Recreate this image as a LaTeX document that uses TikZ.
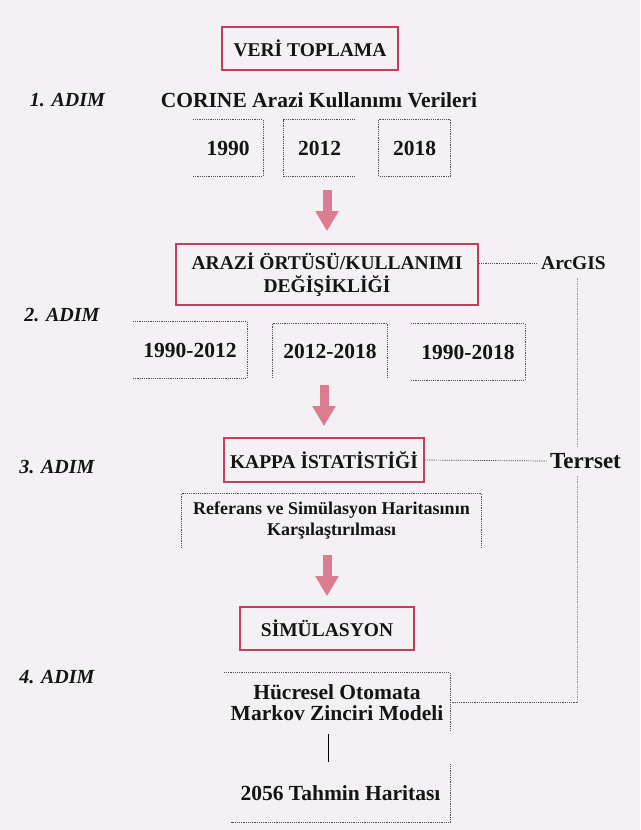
\documentclass[tikz,border=0pt]{standalone}
\usepackage{fontspec}
\setmainfont{Liberation Serif}
\usetikzlibrary{arrows.meta,positioning}
\definecolor{bgpage}{HTML}{F3F1F4}
\definecolor{boxred}{HTML}{C23E5E}
\definecolor{arrowpink}{HTML}{DB7C90}
\definecolor{dotgray}{HTML}{505050}
\definecolor{railgray}{HTML}{A0A0A0}

\begin{document}
\begin{tikzpicture}[x=1pt, y=-1pt, text=black!92,
  font=\bfseries\fontsize{21.5}{21}\selectfont,
  title/.style={draw=boxred, line width=1.6pt, inner sep=0pt, align=center,
    font=\bfseries\fontsize{19.5}{23}\selectfont},
  stepname/.style={font=\bfseries\itshape\fontsize{20}{24}\selectfont},
  dotbox/.style={inner sep=0pt, align=center},
  dotline/.style={dotgray, line width=.7pt, dash pattern=on 1.2pt off 1pt},
  railline/.style={railgray, line width=.7pt, dash pattern=on 1.5pt off 1pt},
  bigarrow/.style={arrowpink, line width=9pt, -{Triangle[width=22pt,length=20pt]}}]
\fill[bgpage] (0,0) rectangle (640,830);

% step 1
\node[title, minimum width=176pt, minimum height=43pt] (veri) at (310,48.5) {VERİ TOPLAMA};
\node[stepname] (adim1) at (67.5,100) {1. ADIM};
\node (corine) at (319,100) {CORINE Arazi Kullanımı Verileri};
\node[dotbox, minimum width=70pt, minimum height=56pt] (y90) at (228,148) {1990};
\node[dotbox, minimum width=71pt, minimum height=56pt] (y12) at (319.5,148) {2012};
\node[dotbox, minimum width=71pt, minimum height=56pt] (y18) at (414.5,148) {2018};
\draw[dotline] (y90.north west) -- (y90.north east) -- (y90.south east) -- (y90.south west);
\draw[dotline] (y12.north east) -- (y12.north west) -- (y12.south west) -- (y12.south east);
\draw[dotline] (y18.north west) rectangle (y18.south east);

% step 2
\node[title, minimum width=302pt, minimum height=61pt] (lulc) at (327,274.5) {ARAZİ ÖRTÜSÜ/KULLANIMI\\ DEĞİŞİKLİĞİ};
\node[font=\bfseries\fontsize{19.5}{24}\selectfont] (arcgis) at (573.5,263) {ArcGIS};
\node[stepname] (adim2) at (62,315) {2. ADIM};
\node[dotbox, minimum width=114pt, minimum height=56pt] (p1) at (190,350) {1990-2012};
\node[dotbox, minimum width=114pt, minimum height=54pt] (p2) at (330,351) {2012-2018};
\node[dotbox, minimum width=114pt, minimum height=56pt] (p3) at (468,352) {1990-2018};
\draw[dotline] (p1.north west) -- (p1.north east) -- (p1.south east) -- (p1.south west);
\draw[dotline] (p2.south west) -- (p2.north west) -- (p2.north east) -- (p2.south east);
\draw[dotline] (p3.north west) -- (p3.north east) -- (p3.south east) -- (p3.south west);

% step 3
\node[title, minimum width=200pt, minimum height=44pt] (kappa) at (324,460) {KAPPA İSTATİSTİĞİ};
\node[font=\bfseries\fontsize{23}{24}\selectfont] (terrset) at (585.5,461) {Terrset};
\node[stepname] (adim3) at (57,467) {3. ADIM};
\node[dotbox, minimum width=299pt, minimum height=54pt, font=\bfseries\fontsize{18}{21}\selectfont] (ref) at (331.5,521)
  {Referans ve Simülasyon Haritasının\\ Karşılaştırılması};
\draw[dotline] (ref.south west) -- (ref.north west) -- (ref.north east) -- (ref.south east);

% step 4
\node[title, minimum width=174pt, minimum height=43pt] (sim) at (327,628.5) {SİMÜLASYON};
\node[stepname] (adim4) at (57,677) {4. ADIM};
\node[dotbox, minimum width=226pt, minimum height=59pt] (model) at (337,702.5) {Hücresel Otomata\\ Markov Zinciri Modeli};
\node[dotbox, minimum width=219pt, minimum height=58pt] (pred) at (340.5,793) {2056 Tahmin Haritası};
\draw[dotline] (model.north west) -- (model.north east) -- (model.south east);
\draw[dotline] (pred.north east) -- (pred.south east) -- (pred.south west);

% flow arrows
\draw[bigarrow, shorten <=14pt, shorten >=12pt] (lulc.north |- y12.south) -- (lulc.north);
\draw[bigarrow, shorten <=7pt, shorten >=11pt] (kappa.north |- p2.south) -- (kappa.north);
\draw[bigarrow, shorten <=7pt, shorten >=10pt] (sim.north |- ref.south) -- (sim.north);
\draw[line width=.8pt, shorten <=2pt, shorten >=2pt] ([xshift=-9pt]model.south) -- ([xshift=-9pt]model.south |- pred.north);

% software links
\coordinate (rail) at (577,0);
\draw[dotline] (lulc.east |- arcgis.west) -- (arcgis.west);
\draw[dotline] (kappa.east) -- (terrset.west);
\draw[railline, shorten <=5pt, shorten >=4pt] (arcgis.south -| rail) -- (terrset.north -| rail);
\draw[railline, shorten <=4pt] (terrset.south -| rail) -- (model.east -| rail);
\draw[dotline] (model.east) -- (model.east -| rail);
\end{tikzpicture}
\end{document}
